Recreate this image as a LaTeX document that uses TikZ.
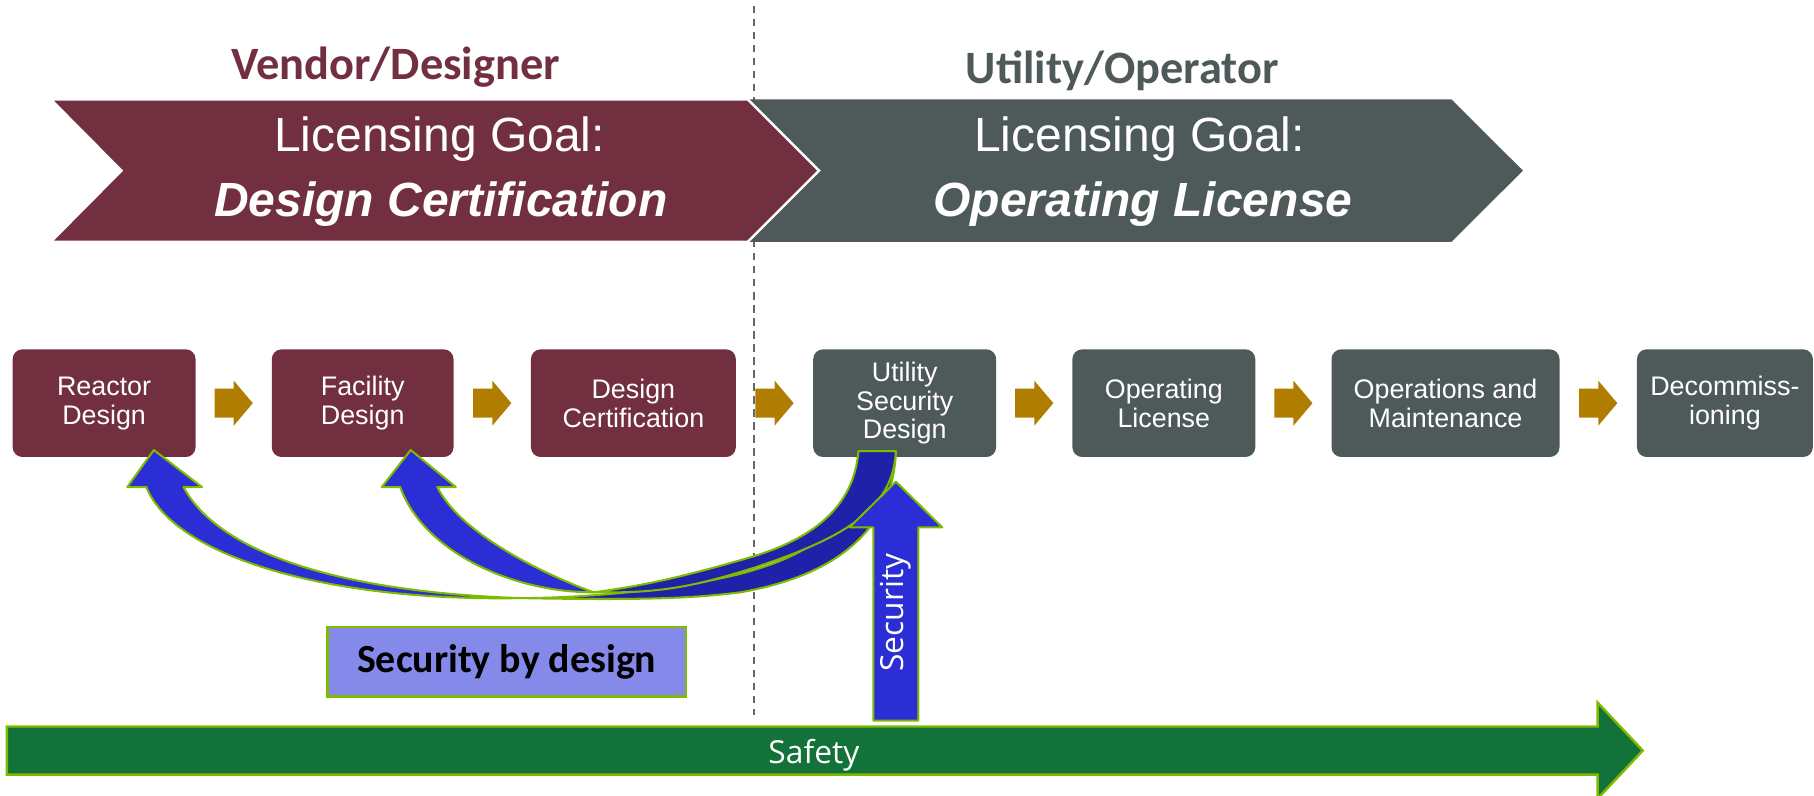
\documentclass[tikz,border=0pt]{standalone}
\usepackage{fontspec}
\setmainfont{Liberation Sans}
\newfontfamily\calibri{Carlito}
\newfontfamily\segoe{Open Sans}
\usetikzlibrary{calc}

\definecolor{vendorred}{HTML}{722F3F}
\definecolor{operatorgray}{HTML}{4E5A59}
\definecolor{arrowgold}{HTML}{B07D00}
\definecolor{secblue}{HTML}{2A2ED4}
\definecolor{secdark}{HTML}{1F22A8}
\definecolor{limeedge}{HTML}{7FBA00}
\definecolor{safegreen}{HTML}{13723A}
\definecolor{sbdfill}{HTML}{8489EA}

% small block arrow halfway between two stages
\newcommand{\steparrow}[2]{%
  \path ($(#1.east)!0.5!(#2.west)$) coordinate (#1-#2);
  \fill[arrowgold, shift={(#1-#2)}] (-16.5,-12.5) -- (0,-12.5) -- (0,-19.5) -- (16.5,0) -- (0,19.5) -- (0,12.5) -- (-16.5,12.5) -- cycle;
}

\begin{document}
\begin{tikzpicture}[x=0.01cm, y=-0.01cm]

\tikzset{
    stage/.style={rounded corners=2.4pt, minimum height=9.3mm, inner sep=0pt, align=center, text=white, font=\fontsize{6.6}{7.1}\selectfont},
    vendor/.style={stage, fill=vendorred},
    operator/.style={stage, fill=operatorgray},
    goal/.style={anchor=base, text=white, font=\fontsize{11.8}{14}\selectfont},
    goalbold/.style={anchor=base, text=white, font=\fontsize{11.8}{14}\selectfont\bfseries\itshape},
    party/.style={anchor=base, font=\calibri\bfseries\fontsize{11.4}{13}\selectfont},
    ribbon/.style={draw=limeedge, line width=0.5pt, line join=round}
}

\useasboundingbox (0,0) rectangle (1568,688);
\clip (0,0) rectangle (1568,688);

\coordinate (dtop) at (652,5);
\coordinate (dbot) at (652,618);
\draw[dash pattern=on 1.8pt off 1.4pt, draw=gray!80!black, line width=0.45pt] (dtop) -- (dbot);

% licensing goals
\fill[operatorgray] (646.5,86) -- (1254.7,86) -- (1316.4,147.5) -- (1254.7,209) -- (646.5,209) -- (708,147.5) -- cycle;
\filldraw[fill=vendorred, draw=white, line width=0.6pt] (44,86) -- (646.5,86) -- (708,147.5) -- (646.5,209) -- (44,209) -- (105,147.5) -- cycle;

\node[party, text=vendorred] (vd) at (342,69) {Vendor/Designer};
\node[party, text=operatorgray] (uo) at (970,72) {Utility/Operator};
\node[goal] (lgv) at (380,131) {Licensing Goal:};
\node[goalbold] (dcg) at (381,187.3) {Design Certification};
\node[goal] (lgo) at (985,131) {Licensing Goal:};
\node[goalbold] (olg) at (988,187.3) {Operating License};

% stages
\node[vendor, minimum width=15.8mm] (rd) at (90,348.5) {Reactor\\Design};
\node[vendor, minimum width=15.7mm] (fd) at (313.5,348.5) {Facility\\Design};
\node[vendor, minimum width=17.7mm] (dc) at (547.5,348.5) {Design\\Certification};
\node[operator, minimum width=15.8mm] (usd) at (782,348.5) {Utility\\Security\\Design};
\node[operator, minimum width=15.8mm] (ol) at (1006,348.5) {Operating\\License};
\node[operator, minimum width=19.7mm] (om) at (1249.5,348.5) {Operations and\\Maintenance};
\node[operator, minimum width=15.2mm] (dec) at (1491,348.5) {Decommiss-\\ioning};

\steparrow{rd}{fd}
\steparrow{fd}{dc}
\steparrow{dc}{usd}
\steparrow{usd}{ol}
\steparrow{ol}{om}
\steparrow{om}{dec}

% security by design, back to reactor and facility
\filldraw[ribbon, fill=secblue] (133,389) -- (174.6,421) -- (158.7,421) .. controls (190,480) and (300,512) .. (450,517) .. controls (280,520) and (150,480) .. (126.5,421) -- (110,421) -- cycle;
\filldraw[ribbon, fill=secdark] (450,517) .. controls (560,519) and (600,517) .. (640,512) .. controls (720,498) and (772,460) .. (774.4,390) -- (742,390) .. controls (742,455) and (700,480) .. (640,496) .. controls (580,511) and (500,517) .. (450,517) -- cycle;
\filldraw[ribbon, fill=secblue] (355,389) -- (394,421) -- (378,421) .. controls (400,465) and (480,500) .. (513,512) .. controls (440,512) and (365,475) .. (346,421) -- (330,421) -- cycle;
\filldraw[ribbon, fill=secdark] (513,512) .. controls (560,506) and (600,496) .. (651,481) .. controls (700,466) and (738,440) .. (742,390) -- (774.4,390) .. controls (772,440) and (730,465) .. (651,491) .. controls (600,507) and (570,513) .. (513,512) -- cycle;

% security
\filldraw[ribbon, fill=secblue] (755,622.9) -- (755,455.8) -- (734.4,455.8) -- (774.4,416.3) -- (814.4,455.8) -- (793.8,455.8) -- (793.8,622.9) -- cycle;
\node[rotate=90, text=white, font=\segoe\fontsize{7.8}{9}\selectfont] (sec) at (774.4,529.5) {Security};

% safety
\filldraw[draw=limeedge, line width=0.6pt, fill=safegreen] (6,628) -- (1381,628) -- (1381,607.3) -- (1420,648.8) -- (1381,690.3) -- (1381,669.5) -- (6,669.5) -- cycle;
\node[anchor=base, text=white, font=\segoe\fontsize{7.8}{9}\selectfont] (safety) at (703.5,659.7) {Safety};

\node[draw=limeedge, line width=0.6pt, fill=sbdfill, minimum width=31mm, minimum height=6mm, font=\calibri\bfseries\fontsize{9.8}{12}\selectfont] (sbd) at (438,572) {Security by design};

\end{tikzpicture}
\end{document}
